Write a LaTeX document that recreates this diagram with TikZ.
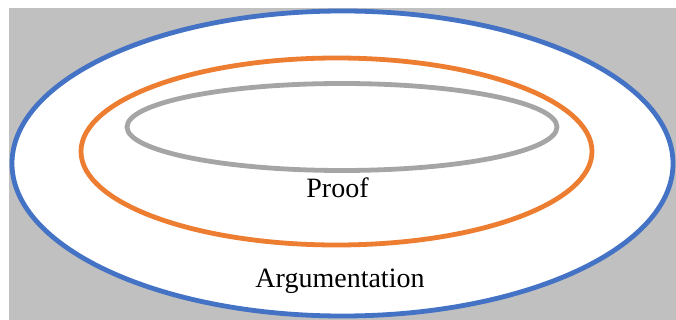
\documentclass[tikz,border=0pt]{standalone}
\usepackage{fontspec}
\setmainfont{Liberation Serif}
\definecolor{bgray}{RGB}{192,192,192}
\definecolor{ablue}{RGB}{68,114,196}
\definecolor{aorange}{RGB}{237,125,49}
\definecolor{agray}{RGB}{165,165,165}
\begin{document}
\begin{tikzpicture}[x=1pt,y=-1pt,
  ring/.style={line width=4.8pt, fill=white, draw=#1},
  lbl/.style={font=\fontsize{28}{32}\selectfont, anchor=base, inner sep=0pt}]
\useasboundingbox (0,0) rectangle (676,320);
\fill[bgray] (9,8) rectangle (676,320);
\begin{scope}
\clip (9,8) rectangle (676,320);
\draw[ring=ablue] (342.5,163.5) ellipse [x radius=330.5, y radius=152.5];
\end{scope}
\draw[ring=aorange] (336.5,151.5) ellipse [x radius=255.5, y radius=93.5];
\draw[ring=agray] (342,127) ellipse [x radius=215, y radius=43.5];
\node[lbl] (proof) at (337.5,197) {Proof};
\node[lbl] (arg) at (340,287) {Argumentation};
\end{tikzpicture}
\end{document}
